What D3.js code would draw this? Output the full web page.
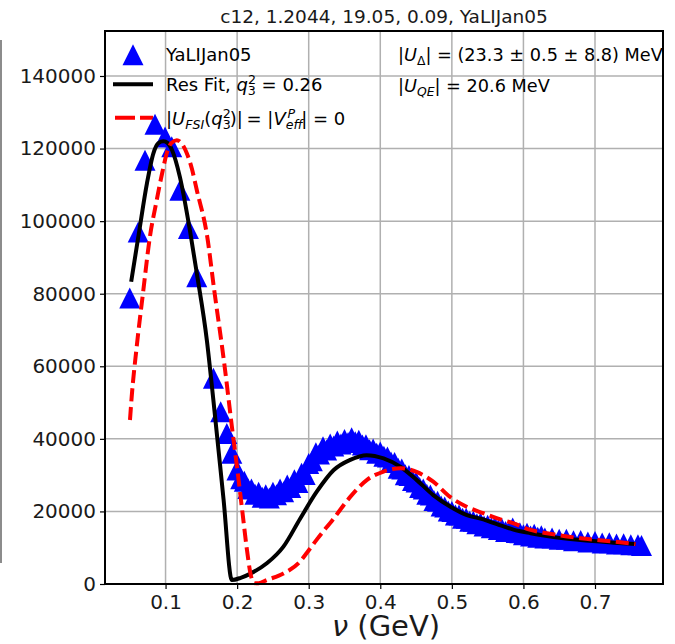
<!DOCTYPE html>
<html>
<head>
<meta charset="utf-8">
<script src="https://cdn.jsdelivr.net/npm/d3@7"></script>
<style>
body{margin:0;background:#fff}
text{font-family:"DejaVu Sans",sans-serif;white-space:pre}
</style>
</head>
<body>
<svg id="chart" width="675" height="644"></svg>
<script>
//data points (blue triangles)
var dataNu = [0.050,0.0618,0.0713,0.0853,0.0993,0.1087,0.120,0.132,0.1436,0.1669,0.177,0.1856,0.1926,0.1997,
	0.205,0.210,0.215,0.220,0.225,0.230,0.235,0.240,0.245,0.250,0.255,0.260,0.265,0.270,0.275,0.280,0.285,0.290,0.295,
	0.300,0.305,0.310,0.315,0.320,0.325,0.330,0.335,0.340,0.345,0.350,0.355,0.360,0.365,0.370,0.375,0.380,0.385,0.390,0.395,
	0.400,0.405,0.410,0.415,0.420,0.425,0.430,0.435,0.440,0.445,0.450,0.455,0.460,0.465,0.470,0.475,0.480,0.485,0.490,0.495,
	0.500,0.505,0.510,0.515,0.520,0.525,0.530,0.535,0.540,0.545,0.550,0.555,0.560,0.565,0.570,0.575,0.580,0.585,0.590,0.595,
	0.600,0.605,0.610,0.615,0.620,0.625,0.630,0.640,0.650,0.660,0.670,0.680,0.690,0.700,0.710,0.720,0.730,0.740,0.750,0.760,0.765];
var dataVal = [78800,97000,116800,126700,123200,120500,108500,98000,84700,56700,47500,41500,36000,31400,
	29000,28300,26300,26200,24700,25300,23900,24600,23700,25300,24600,26200,25400,27300,26600,28700,28000,30500,30200,
	33200,34000,36200,35800,37800,36900,38600,38000,39400,38600,39800,39000,40300,39200,39600,38300,38400,37000,37200,36000,
	36400,35200,35000,33600,33500,31900,31700,30100,29900,28500,28100,26600,26200,24700,24500,23000,22800,21500,21200,20100,
	20000,19000,19000,18100,18100,17300,17300,16600,16800,16000,16200,15500,15700,15000,15200,14500,14700,15400,14200,14100,
	13600,14000,13200,13700,12900,13300,12700,12700,12300,12300,11900,12000,11600,11700,11300,11400,11050,11100,10800,10800,10600];

//Res Fit curve (black)
var fitNu = [0.052,0.063,0.074,0.083,0.090,0.097,0.103,0.109,0.120,0.134,0.1437,0.1577,0.1668,0.181,0.1926,
	0.205,0.218,0.2415,0.2647,0.288,0.3115,0.335,0.358,0.381,0.4046,0.428,0.4507,0.474,0.498,0.521,0.544,0.563,0.586,
	0.610,0.633,0.680,0.7256,0.7566];
var fitVal = [83300,97000,110400,118700,121500,122000,121500,119600,112200,97500,85600,67200,50700,23400,1100,
	1700,2800,5700,10300,18000,25500,31400,34200,35500,34600,32300,28700,24500,21300,19000,17800,16500,15000,
	14000,13200,12100,11400,11000];

//|U_FSI| = |V_eff| = 0 curve (red dashed)
var fsiNu = [0.0503,0.0527,0.0597,0.069,0.078,0.0877,0.095,0.1017,0.108,0.1157,0.122,0.1297,0.1367,0.1437,0.158,0.168,
	0.182,0.1926,0.200,0.207,0.214,0.219,0.224,0.230,0.2415,0.2647,0.288,0.2975,0.3115,0.3347,0.358,0.3815,0.4046,0.428,
	0.4507,0.474,0.4976,0.5206,0.544,0.5678,0.5864,0.610,0.633,0.680,0.7256,0.7566];
var fsiVal = [45200,51600,65400,81000,95500,105800,113000,118700,121500,122300,121500,118700,114500,108500,96000,81000,
	60800,43500,32000,20500,9000,2500,300,200,1100,2900,6200,8600,12300,18000,24000,28700,31000,31900,
	30900,28200,24000,21300,19500,17800,16700,14900,14000,12600,11700,11000];

var xTicks = [0.1,0.2,0.3,0.4,0.5,0.6,0.7];
var yTicks = [0,20000,40000,60000,80000,100000,120000,140000];
var titleText = "c12, 1.2044, 19.05, 0.09, YaLIJan05";

var pLeft = 105, pRight = 663, pTop = 31, pBottom = 584;
var svg = d3.select("#chart");

var x = d3.scaleLinear().domain([0.0154, 0.795]).range([pLeft, pRight]);
var y = d3.scaleLinear().domain([0, 152400]).range([pBottom, pTop]);

//stray line at the left edge
svg.append("line").attr("x1", 1).attr("x2", 1).attr("y1", 40).attr("y2", 563)
	.attr("stroke", "#666").attr("stroke-width", 1.5);

//grid
svg.append("g").selectAll("line").data(xTicks).enter().append("line")
	.attr("x1", function(d){ return x(d) }).attr("x2", function(d){ return x(d) })
	.attr("y1", pTop).attr("y2", pBottom)
	.attr("stroke", "#b0b0b0").attr("stroke-width", 1.5);
svg.append("g").selectAll("line").data(yTicks).enter().append("line")
	.attr("y1", function(d){ return y(d) }).attr("y2", function(d){ return y(d) })
	.attr("x1", pLeft).attr("x2", pRight)
	.attr("stroke", "#b0b0b0").attr("stroke-width", 1.5);

//axes
var yAxis = svg.append("g").attr("transform", "translate(" + pLeft + ",0)")
	.call(d3.axisLeft(y).tickValues(yTicks).tickSize(5).tickPadding(4).tickFormat(d3.format("d")));
var xAxis = svg.append("g").attr("transform", "translate(0," + pBottom + ")")
	.call(d3.axisBottom(x).tickValues(xTicks).tickSize(5).tickPadding(6).tickFormat(d3.format(".1f")));
[yAxis, xAxis].forEach(function(a){
	a.select(".domain").remove();
	a.selectAll(".tick line").attr("stroke", "#000").attr("stroke-width", 1.2);
	a.selectAll(".tick text").attr("font-family", "DejaVu Sans").attr("font-size", 20).attr("fill", "#1a1a1a");
});

//math text helper
function mtext(sel, xx, yy, parts, size){
	var t = sel.append("text").attr("x", xx).attr("y", yy).attr("font-size", size).attr("fill", "#000");
	var cur = 0;
	parts.forEach(function(p){
		var off = p.sub ? 0.22 * size : (p.sup ? -0.38 * size : 0);
		var ts = t.append("tspan").text(p.t).attr("dy", off - cur);
		if (p.dx) ts.attr("dx", p.dx);
		if (p.sub || p.sup) ts.attr("font-size", size * 0.7);
		if (p.i) ts.attr("font-style", "italic");
		cur = off;
	});
	return t;
}

//legend
var leg = svg.append("g");
leg.append("path").attr("d", "M0,-10.5L-10.5,10.5L10.5,10.5Z")
	.attr("transform", "translate(133,54.7)").attr("fill", "#0000ff");
leg.append("line").attr("x1", 113).attr("x2", 153).attr("y1", 84.3).attr("y2", 84.3)
	.attr("stroke", "#000").attr("stroke-width", 4);
leg.append("line").attr("x1", 115).attr("x2", 153).attr("y1", 117.7).attr("y2", 117.7)
	.attr("stroke", "#ff0000").attr("stroke-width", 4).attr("stroke-dasharray", "20,5");
mtext(leg, 166, 61, [{t: "YaLIJan05"}], 18);
mtext(leg, 166, 91, [{t: "Res Fit, "}, {t: "q", i: true}, {t: "3", sub: true}, {t: "2", sup: true, dx: -8}, {t: " = 0.26"}], 18);
mtext(leg, 166, 125, [{t: "|"}, {t: "U", i: true}, {t: "FSI", sub: true, i: true}, {t: "("}, {t: "q", i: true},
	{t: "3", sub: true}, {t: "2", sup: true, dx: -8}, {t: ")|", dx: -1}, {t: " = |", dx: -2}, {t: "V", i: true}, {t: "eff", sub: true, i: true},
	{t: "P", sup: true, i: true, dx: -15}, {t: "| = 0", dx: 6}], 18);

mtext(svg, 398, 61, [{t: "|"}, {t: "U", i: true}, {t: "Δ", sub: true}, {t: "| = (23.3 ± 0.5 ± 8.8) MeV"}], 17.7);
mtext(svg, 398, 92, [{t: "|"}, {t: "U", i: true}, {t: "QE", sub: true, i: true}, {t: "| = 20.6 MeV"}], 17.7);

//data triangles
var pts = dataNu.map(function(d, i){ return [d, dataVal[i]] });
svg.append("g").selectAll("path").data(pts).enter().append("path")
	.attr("d", "M0,-10.5L-10.5,10.5L10.5,10.5Z")
	.attr("transform", function(d){ return "translate(" + x(d[0]) + "," + y(d[1]) + ")" })
	.attr("fill", "#0000ff");

//curves
var line = d3.line().x(function(d){ return x(d[0]) }).y(function(d){ return y(d[1]) }).curve(d3.curveMonotoneX);
svg.append("path").datum(fitNu.map(function(d, i){ return [d, fitVal[i]] }))
	.attr("d", line).attr("fill", "none").attr("stroke", "#000").attr("stroke-width", 4);
svg.append("path").datum(fsiNu.map(function(d, i){ return [d, fsiVal[i]] }))
	.attr("d", line).attr("fill", "none").attr("stroke", "#ff0000").attr("stroke-width", 4)
	.attr("stroke-dasharray", "13,5.5");

//frame
svg.append("rect").attr("x", pLeft).attr("y", pTop).attr("width", pRight - pLeft).attr("height", pBottom - pTop)
	.attr("fill", "none").attr("stroke", "#000").attr("stroke-width", 2);

//title and axis label
svg.append("text").attr("x", (pLeft + pRight) / 2).attr("y", 23).attr("text-anchor", "middle")
	.attr("font-size", 18.5).attr("fill", "#1a1a1a").text(titleText);
var xl = svg.append("text").attr("x", (pLeft + pRight) / 2 + 2).attr("y", 636).attr("text-anchor", "middle")
	.attr("font-size", 29).attr("fill", "#1a1a1a");
xl.append("tspan").attr("font-style", "italic").text("ν");
xl.append("tspan").text(" (GeV)");
</script>
</body>
</html>
